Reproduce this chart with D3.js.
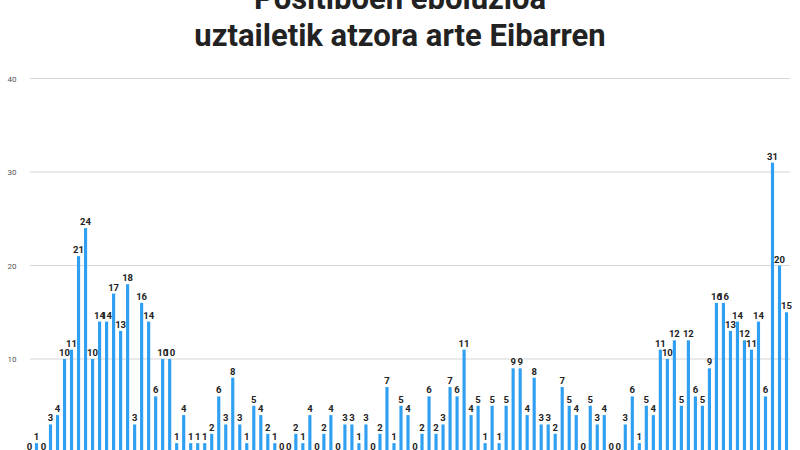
<!DOCTYPE html>
<html><head><meta charset="utf-8">
<script src="https://cdn.jsdelivr.net/npm/d3@7"></script>
<style>body{margin:0;background:#fff;}svg{display:block;}</style>
</head><body>
<svg width="800" height="450"></svg>
<script>
// daily positives
var values = [0,1,0,3,4,10,11,21,24,10,
  14,14,17,13,18,3,16,14,6,10,
  10,1,4,1,1,1,2,6,3,8,
  3,1,5,4,2,1,0,0,2,1,
  4,0,2,4,0,3,3,1,3,0,
  2,7,1,5,4,0,2,6,2,3,
  7,6,11,4,5,1,5,1,5,9,
  9,4,8,3,3,2,7,5,4,0,
  5,3,4,0,0,3,6,1,5,4,
  11,10,12,5,12,6,5,9,16,16,
  13,14,12,11,14,6,31,20,15];
var yTicks = [10, 20, 30, 40];
var titleLines = ['Positiboen eboluzioa', 'uztailetik atzora arte Eibarren'];

var svg = d3.select('svg');
var x = d3.scaleBand().domain(d3.range(values.length)).range([26.5, 789.5]).paddingInner(0.55).paddingOuter(0.2);
var y = d3.scaleLinear().domain([0, 40]).range([452.5, 78.5]);

svg.selectAll('line.grid').data(yTicks).enter().append('line')
  .attr('class', 'grid')
  .attr('x1', 30).attr('x2', 790)
  .attr('y1', function(d) { return y(d); }).attr('y2', function(d) { return y(d); })
  .style('stroke', '#d6d6d6').style('stroke-width', 1.2);

svg.selectAll('text.tick').data([0].concat(yTicks)).enter().append('text')
  .attr('class', 'tick')
  .attr('x', 12).attr('y', function(d) { return y(d) + 3; })
  .attr('text-anchor', 'middle')
  .style('font', '8px Roboto, sans-serif').style('fill', '#555')
  .text(function(d) { return d; });

svg.selectAll('rect.bar').data(values).enter().append('rect')
  .attr('class', 'bar')
  .attr('x', function(d, i) { return x(i); })
  .attr('width', x.bandwidth())
  .attr('y', function(d) { return y(d); })
  .attr('height', function(d) { return y(0) - y(d); })
  .style('fill', '#2f9ff2');

svg.selectAll('text.lbl').data(values).enter().append('text')
  .attr('class', 'lbl')
  .attr('x', function(d, i) { return x(i) + x.bandwidth() / 2; })
  .attr('y', function(d) { return y(d) - 3; })
  .attr('text-anchor', 'middle')
  .style('font', 'bold 9.5px Roboto, sans-serif').style('fill', '#222')
  .text(function(d) { return d; });

// white box behind the title hides the top gridline
svg.append('rect').attr('x', 160).attr('y', 0).attr('width', 485).attr('height', 60).style('fill', '#fff');
svg.selectAll('text.title').data(titleLines).enter().append('text')
  .attr('class', 'title')
  .attr('x', 400).attr('y', function(d, i) { return 9 + i * 37; })
  .attr('text-anchor', 'middle')
  .style('font', 'bold 31px Roboto, sans-serif').style('fill', '#222')
  .text(function(d) { return d; });
</script>
</body></html>
